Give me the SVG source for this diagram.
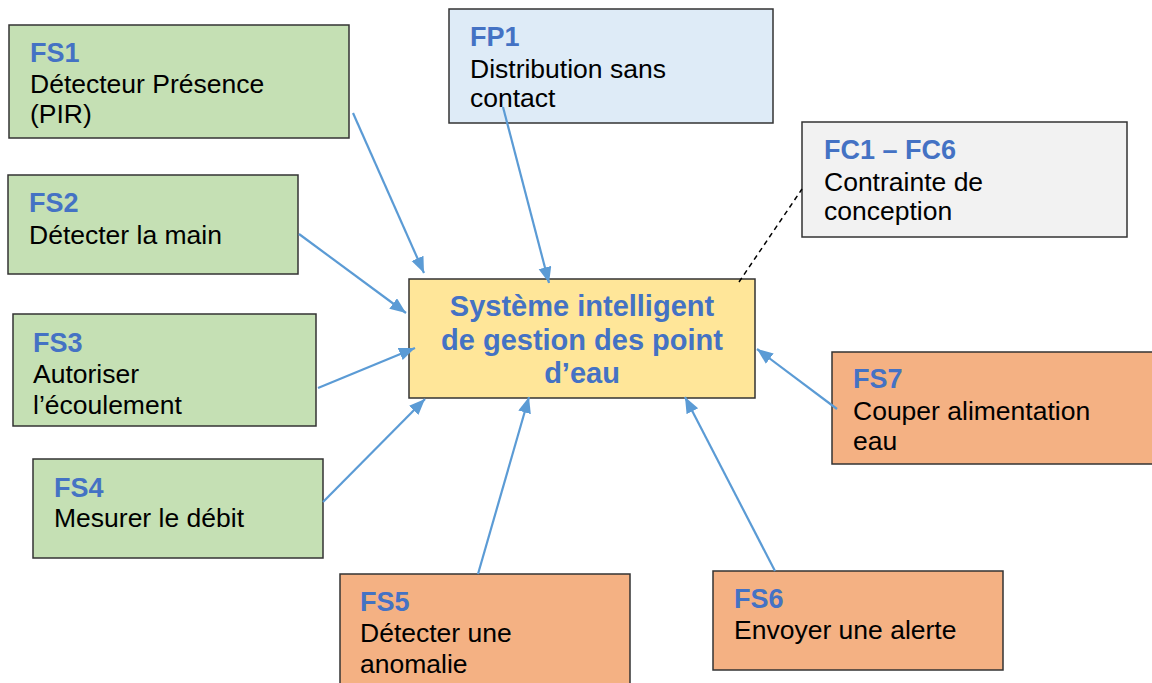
<svg xmlns="http://www.w3.org/2000/svg" width="1152" height="683" viewBox="0 0 1152 683">
<style>
.box{stroke:#333;stroke-width:1.5}
.g{fill:#c5e0b4}.o{fill:#f4b183}.b{fill:#deebf7}.gr{fill:#f2f2f2}.y{fill:#ffe699}
.t{font-family:"Liberation Sans",Arial,sans-serif;font-size:26.5px;fill:#000}
.h{font-family:"Liberation Sans",Arial,sans-serif;font-size:27px;font-weight:bold;fill:#4472c4}
.c{font-family:"Liberation Sans",Arial,sans-serif;font-size:29px;font-weight:bold;fill:#4472c4;text-anchor:middle}
.a{stroke:#5b9bd5;stroke-width:2.2;fill:none;marker-end:url(#ah)}
</style>
<defs>
<marker id="ah" markerUnits="userSpaceOnUse" markerWidth="17" markerHeight="14" refX="16" refY="6.5" orient="auto">
<path d="M0,0 L16,6.5 L0,13 Z" fill="#5b9bd5"/>
</marker>
</defs>
<rect width="1152" height="683" fill="#fff"/>
<g id="fs1"><rect class="box g" x="9" y="25" width="340" height="113"/><text class="h" x="30" y="62">FS1</text><text class="t" x="30" y="93">Détecteur Présence</text><text class="t" x="30" y="123">(PIR)</text></g>
<g id="fs2"><rect class="box g" x="8" y="175" width="290" height="99"/><text class="h" x="29" y="212">FS2</text><text class="t" x="29" y="244">Détecter la main</text></g>
<g id="fs3"><rect class="box g" x="13" y="314" width="303" height="112"/><text class="h" x="33" y="352">FS3</text><text class="t" x="33" y="383">Autoriser</text><text class="t" x="33" y="414">l’écoulement</text></g>
<g id="fs4"><rect class="box g" x="33" y="459" width="290" height="99"/><text class="h" x="54" y="497">FS4</text><text class="t" x="54" y="527">Mesurer le débit</text></g>
<g id="fp1"><rect class="box b" x="449" y="9" width="324" height="114"/><text class="h" x="470" y="46">FP1</text><text class="t" x="470" y="78">Distribution sans</text><text class="t" x="470" y="107">contact</text></g>
<g id="fc"><rect class="box gr" x="802" y="122" width="325" height="115"/><text class="h" x="824" y="159">FC1 – FC6</text><text class="t" x="824" y="191">Contrainte de</text><text class="t" x="824" y="220">conception</text></g>
<g id="fs7"><rect class="box o" x="832" y="352" width="330" height="112"/><text class="h" x="853" y="388">FS7</text><text class="t" x="853" y="420">Couper alimentation</text><text class="t" x="853" y="450">eau</text></g>
<g id="fs5"><rect class="box o" x="340" y="574" width="290" height="120"/><text class="h" x="360" y="611">FS5</text><text class="t" x="360" y="642">Détecter une</text><text class="t" x="360" y="673">anomalie</text></g>
<g id="fs6"><rect class="box o" x="713" y="571" width="290" height="99"/><text class="h" x="734" y="608">FS6</text><text class="t" x="734" y="639">Envoyer une alerte</text></g>
<g id="center"><rect class="box y" x="409" y="279" width="346" height="119"/><text class="c" x="582" y="316">Système intelligent</text><text class="c" x="582" y="350">de gestion des point</text><text class="c" x="582" y="383">d’eau</text></g>
<g id="connectors">
<line class="a" x1="353" y1="113" x2="424" y2="273"/>
<line class="a" x1="299" y1="234" x2="406" y2="313"/>
<line class="a" x1="318" y1="388" x2="415" y2="348"/>
<line class="a" x1="323" y1="502" x2="425" y2="399"/>
<line class="a" x1="478" y1="574" x2="529" y2="397"/>
<line class="a" x1="775" y1="571" x2="685" y2="397"/>
<line class="a" x1="837" y1="409" x2="757" y2="349"/>
<line class="a" x1="503" y1="107" x2="549" y2="283"/>
<line x1="739" y1="282" x2="802" y2="189" stroke="#000" stroke-width="1.5" stroke-dasharray="5,4"/>
</g>
</svg>
